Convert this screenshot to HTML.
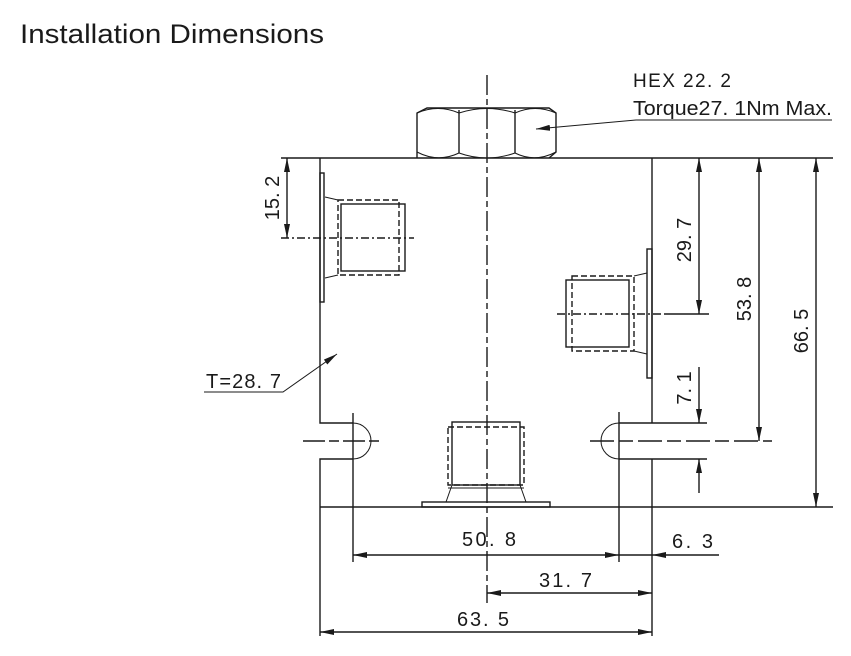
<!DOCTYPE html>
<html><head><meta charset="utf-8"><style>
html,body{margin:0;padding:0;background:#fff;}
svg{display:block;}
text{font-family:"Liberation Sans",sans-serif;fill:#1a1a1a;}
</style></head><body>
<svg width="851" height="656" viewBox="0 0 851 656" xmlns="http://www.w3.org/2000/svg">
<defs>
<marker id="a" viewBox="0 0 14 6" refX="14" refY="3" markerWidth="14" markerHeight="6" markerUnits="userSpaceOnUse" orient="auto-start-reverse"><path d="M0,0 L14,3 L0,6 Z" fill="#1a1a1a"/></marker>
</defs>
<text x="20" y="43" font-size="27" textLength="304" lengthAdjust="spacingAndGlyphs">Installation Dimensions</text>
<g stroke="#1a1a1a" stroke-width="1.4" fill="none">
<line x1="281" y1="158" x2="833" y2="158"/>
<polyline points="320,158 320,423 353,423"/>
<polyline points="353,459 320,459 320,636"/>
<line x1="320" y1="507" x2="833" y2="507"/>
<line x1="652" y1="158" x2="652" y2="423"/>
<line x1="652" y1="459" x2="652" y2="636"/>
<line x1="619" y1="423" x2="707" y2="423"/>
<line x1="619" y1="459" x2="707" y2="459"/>
<path d="M353,423 A18,18 0 0 1 353,459" stroke-width="1"/>
<path d="M619,423 A18,18 0 0 0 619,459" stroke-width="1"/>
<line x1="353" y1="413" x2="353" y2="562"/>
<line x1="619" y1="412" x2="619" y2="562"/>
<line x1="303" y1="441" x2="380" y2="441" stroke-dasharray="22,4,10,4"/>
<line x1="590" y1="441" x2="772" y2="441" stroke-dasharray="24,5,14,5"/>
<path d="M417,158 L417,113 L427,108 L549,108 L556,113 L556,152 L549,158"/>
<line x1="459" y1="110" x2="459" y2="153"/>
<line x1="515" y1="110" x2="515" y2="153"/>
<path d="M417,152 Q438,163 459,153 Q487,163 515,153 Q535,163 556,152" stroke-width="1"/>
<path d="M417,113 Q438,104 459,113 Q487,104 515,113 Q535,104 556,113" stroke-width="1"/>
<line x1="487" y1="75" x2="487" y2="603" stroke-dasharray="20,4,6,4"/>
<rect x="320" y="173" width="4" height="129"/>
<rect x="341" y="204" width="64" height="67"/>
<rect x="338" y="200" width="61" height="75" stroke-dasharray="6,3"/>
<line x1="325" y1="197" x2="338" y2="200" stroke-width="1"/>
<line x1="325" y1="278" x2="338" y2="275" stroke-width="1"/>
<line x1="281" y1="238" x2="414" y2="238" stroke-dasharray="8,3,2,3"/>
<rect x="647" y="249" width="5" height="129"/>
<rect x="566" y="280" width="63" height="67"/>
<rect x="572" y="276" width="62" height="75" stroke-dasharray="6,3"/>
<line x1="634" y1="276" x2="647" y2="273" stroke-width="1"/>
<line x1="634" y1="351" x2="647" y2="354" stroke-width="1"/>
<line x1="557" y1="314" x2="666" y2="314" stroke-dasharray="8,3,2,3"/>
<line x1="666" y1="314" x2="709" y2="314"/>
<rect x="422" y="502" width="128" height="5"/>
<rect x="452" y="422" width="68" height="63"/>
<rect x="448" y="427" width="76" height="58" stroke-dasharray="6,3"/>
<path d="M452,485 L446,502 M520,485 L526,502 M448,488 L524,488" stroke-width="1"/>
<line x1="287" y1="158" x2="287" y2="238" marker-start="url(#a)" marker-end="url(#a)"/>
<line x1="699" y1="158" x2="699" y2="314" marker-start="url(#a)" marker-end="url(#a)"/>
<line x1="759" y1="158" x2="759" y2="441" marker-start="url(#a)" marker-end="url(#a)"/>
<line x1="816" y1="158" x2="816" y2="507" marker-start="url(#a)" marker-end="url(#a)"/>
<line x1="699" y1="367" x2="699" y2="423" marker-end="url(#a)"/>
<line x1="699" y1="493" x2="699" y2="459" marker-end="url(#a)"/>
<line x1="353" y1="555" x2="619" y2="555" marker-start="url(#a)" marker-end="url(#a)"/>
<line x1="619" y1="555" x2="652" y2="555"/>
<line x1="719" y1="555" x2="652" y2="555" marker-end="url(#a)"/>
<line x1="487" y1="593" x2="652" y2="593" marker-start="url(#a)" marker-end="url(#a)"/>
<line x1="320" y1="632" x2="652" y2="632" marker-start="url(#a)" marker-end="url(#a)"/>
<polyline points="832,120 636,120 536,129" stroke-width="1" marker-end="url(#a)"/>
<polyline points="204,392 283,392 337,354" stroke-width="1" marker-end="url(#a)"/>
</g>
<g font-size="20">
<text x="633" y="87" font-size="19" textLength="98" lengthAdjust="spacing">HEX  22. 2</text>
<text x="633" y="115" font-size="20" textLength="199" lengthAdjust="spacingAndGlyphs">Torque27. 1Nm Max.</text>
<text x="206" y="388" textLength="75" lengthAdjust="spacing">T=28. 7</text>
<text x="462" y="546" textLength="54" lengthAdjust="spacing">50. 8</text>
<text x="672" y="548" textLength="41" lengthAdjust="spacing">6. 3</text>
<text x="539" y="587" textLength="53" lengthAdjust="spacing">31. 7</text>
<text x="457" y="626" textLength="52" lengthAdjust="spacing">63. 5</text>
<text transform="translate(279,198) rotate(-90)" text-anchor="middle">15. 2</text>
<text transform="translate(691,240) rotate(-90)" text-anchor="middle">29. 7</text>
<text transform="translate(751,299) rotate(-90)" text-anchor="middle">53. 8</text>
<text transform="translate(808,331) rotate(-90)" text-anchor="middle">66. 5</text>
<text transform="translate(691,388) rotate(-90)" text-anchor="middle">7. 1</text>
</g>
</svg>
</body></html>
